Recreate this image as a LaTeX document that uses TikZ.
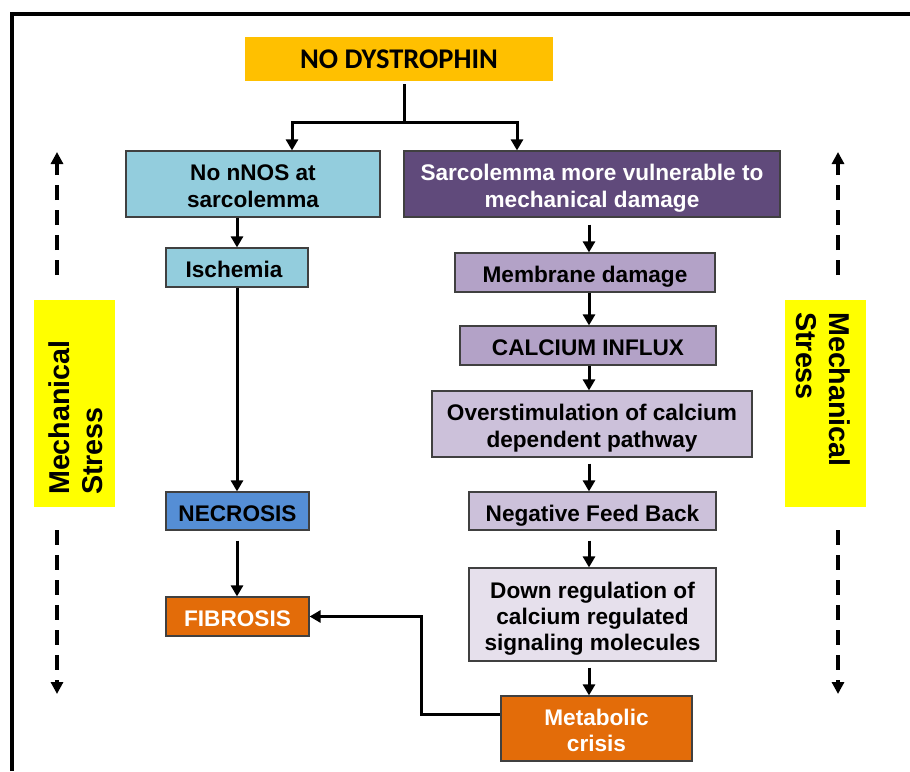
\documentclass[tikz,border=0pt]{standalone}
\usepackage{fontspec}
\setmainfont{Liberation Sans}
\newfontfamily\titlefont{Carlito}
\usetikzlibrary{arrows.meta}

\definecolor{dysgold}{HTML}{FFC000}
\definecolor{nnosblue}{HTML}{93CDDD}
\definecolor{necblue}{HTML}{558ED5}
\definecolor{sarcpurple}{HTML}{604A7B}
\definecolor{lilacdark}{HTML}{B3A2C7}
\definecolor{lilacmid}{HTML}{CCC1DA}
\definecolor{lilaclight}{HTML}{E6E0EC}
\definecolor{fiborange}{HTML}{E36C09}
\definecolor{stressyellow}{HTML}{FFFF00}

\newcommand{\boxfont}{\fontsize{22.6}{26.3}\selectfont\bfseries}
\newcommand{\stressfont}{\fontsize{28.7}{33}\selectfont\bfseries}
% struts on first and last line, keep the text centred like the slide
\newcommand{\topstrut}{\rule{0pt}{25pt}}
\newcommand{\botstrut}{\rule[-4.8pt]{0pt}{0pt}}

\begin{document}
\begin{tikzpicture}[x=1pt, y=-1pt,
    box/.style={draw=black!75, line width=1.2pt, inner sep=0pt, align=center, font=\boxfont},
    arr/.style={line width=3pt, -{Triangle[width=12pt,length=11pt]}},
    dasharr/.style={line width=4pt, dash pattern=on 15pt off 10pt, -{Triangle[width=12pt,length=12pt]}},
    stressbox/.style={fill=stressyellow, inner sep=0pt, minimum width=81pt, minimum height=207pt},
    stresstext/.style={align=left, inner sep=0pt, font=\stressfont}]
  \useasboundingbox (0,0) rectangle (910,771);
  % outer frame
  \draw[line width=4pt, line join=miter] (12,771) -- (12,13.5) -- (910,13.5);

  \node [fill=dysgold, inner sep=0pt, minimum width=308pt, minimum height=44pt,
         font=\titlefont\bfseries\fontsize{28.5}{30}\selectfont] (dys) at (399,59) {NO DYSTROPHIN};

  % left branch
  \node [box, fill=nnosblue, minimum width=254pt, minimum height=66pt] (nnos) at (253,184) {\topstrut No nNOS at\\sarcolemma\botstrut};
  \node [box, fill=nnosblue, minimum width=142pt, minimum height=39pt] (isch) at (237,267.5) {\topstrut Ischemia\hspace{6pt}\botstrut};
  \node [box, fill=necblue, minimum width=143pt, minimum height=38pt] (necr) at (237.5,511) {\topstrut NECROSIS\botstrut};
  \node [box, fill=fiborange, text=white, minimum width=143pt, minimum height=39pt] (fib) at (237.5,616.5) {\topstrut FIBROSIS\botstrut};

  % right branch
  \node [box, fill=sarcpurple, text=white, minimum width=376pt, minimum height=66pt] (sarc) at (592,184) {\topstrut Sarcolemma more vulnerable to\\mechanical damage\botstrut};
  \node [box, fill=lilacdark, minimum width=260pt, minimum height=39pt] (memb) at (585,272.5) {\topstrut Membrane damage\botstrut};
  \node [box, fill=lilacdark, minimum width=256pt, minimum height=39pt] (calc) at (588,345.5) {\topstrut CALCIUM INFLUX\botstrut};
  \node [box, fill=lilacmid, minimum width=320pt, minimum height=66pt] (over) at (592,424) {\topstrut Overstimulation of calcium\\dependent pathway\botstrut};
  \node [box, fill=lilacmid, minimum width=247pt, minimum height=38pt] (neg) at (592.5,511) {\topstrut Negative Feed Back\botstrut};
  \node [box, fill=lilaclight, minimum width=247pt, minimum height=93pt] (down) at (592.5,614.5) {\topstrut Down regulation of\\calcium regulated\\signaling molecules\botstrut};
  \node [box, fill=fiborange, text=white, minimum width=191pt, minimum height=65pt] (meta) at (596.5,728.5) {\topstrut Metabolic\\crisis\botstrut};

  % mechanical stress at both sides
  \node [stressbox] (stressL) at (74.5,403.5) {};
  \node [stresstext, rotate=90] (stressLtext) at (75.5,417.5) {Mechanical\\Stress};
  \node [stressbox] (stressR) at (825.5,403.5) {};
  \node [stresstext, rotate=-90] (stressRtext) at (823.5,389.5) {Mechanical\\Stress};

  \coordinate (split) at (404,122);
  \coordinate (brL) at (292,0);
  \coordinate (brR) at (517,0);
  \coordinate (colL) at (237,0);
  \coordinate (colR) at (589,0);
  \coordinate (fbk) at (421,714);
  \coordinate (upL0) at (57,275);
  \coordinate (upL1) at (57,152);
  \coordinate (dnL0) at (57,530);
  \coordinate (dnL1) at (57,694);
  \coordinate (upR0) at (838,275);
  \coordinate (upR1) at (838,152);
  \coordinate (dnR0) at (838,530);
  \coordinate (dnR1) at (838,694);

  % connectors
  \draw[line width=3pt, shorten <=3pt] (dys.south -| split) -- (split);
  \draw[arr] (split) -| (nnos.north -| brL);
  \draw[arr] (split) -| (sarc.north -| brR);

  \draw[arr] (nnos.south -| colL) -- (isch.north -| colL);
  \draw[arr] (isch.south -| colL) -- (necr.north -| colL);
  \draw[arr, shorten <=10pt] (necr.south -| colL) -- (fib.north -| colL);

  \draw[arr, shorten <=7pt] (sarc.south -| colR) -- (memb.north -| colR);
  \draw[arr] (memb.south -| colR) -- (calc.north -| colR);
  \draw[arr] (calc.south -| colR) -- (over.north -| colR);
  \draw[arr, shorten <=6pt] (over.south -| colR) -- (neg.north -| colR);
  \draw[arr, shorten <=10pt] (neg.south -| colR) -- (down.north -| colR);
  \draw[arr, shorten <=6pt] (down.south -| colR) -- (meta.north -| colR);
  \draw[arr] (meta.west |- fbk) -- (fbk) |- (fib.east);

  \draw[dasharr] (upL0) -- (upL1);
  \draw[dasharr] (dnL0) -- (dnL1);
  \draw[dasharr] (upR0) -- (upR1);
  \draw[dasharr] (dnR0) -- (dnR1);
\end{tikzpicture}
\end{document}
